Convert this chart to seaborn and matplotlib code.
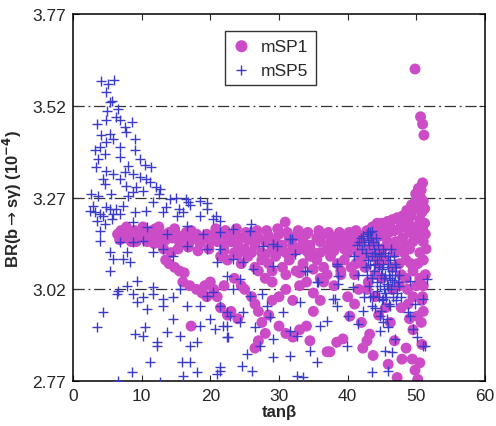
import pandas as pd
import matplotlib
matplotlib.use("Agg")
import matplotlib.pyplot as plt
import seaborn as sns

## Data: (tan beta, BR x 1e4)

# mSP1 (magenta dots)
msp1_band_low_tanb = [
    (6.5, 3.17), (7.0, 3.18), (7.5, 3.16), (8.0, 3.175), (8.5, 3.17), (9.0, 3.18),
    (9.5, 3.165), (10.0, 3.175), (10.5, 3.16), (11.0, 3.17), (11.5, 3.18), (12.0, 3.165),
    (12.5, 3.19), (13.0, 3.17), (13.5, 3.155), (14.0, 3.175), (14.5, 3.16), (15.0, 3.17),
    (15.5, 3.15), (16.0, 3.165), (16.5, 3.175), (17.0, 3.15), (17.5, 3.16), (18.0, 3.17),
    (18.5, 3.145), (19.0, 3.16), (19.5, 3.17), (20.0, 3.15), (9.2, 3.15), (11.8, 3.145),
    (13.2, 3.13), (14.3, 3.12), (15.3, 3.13), (16.8, 3.135), (18.2, 3.125), (19.8, 3.13),
    (7.8, 3.19), (10.2, 3.19), (12.0, 3.185), (14.8, 3.185), (17.2, 3.18), (8.5, 3.15),
    (10.8, 3.15), (12.8, 3.145), (6.8, 3.155),
]
msp1_branch = [
    (13.5, 3.10), (14.0, 3.09), (14.8, 3.08), (15.5, 3.07), (16.2, 3.065), (16.0, 3.04),
    (17.0, 3.03), (18.0, 3.02), (18.8, 3.01), (19.5, 3.0), (20.5, 3.02), (19.2, 3.03),
    (21.0, 3.0), (17.2, 2.92),
]
msp1_band_mid_tanb = [
    (20.5, 3.165), (21, 3.15), (21.5, 3.17), (22, 3.14), (22.5, 3.16), (23, 3.15),
    (23.5, 3.17), (24, 3.14), (24.5, 3.16), (25, 3.13), (25.5, 3.155), (26, 3.17),
    (26.5, 3.14), (27, 3.16), (27.5, 3.12), (28, 3.15), (28.5, 3.165), (29, 3.13),
    (29.5, 3.15), (30, 3.17), (30.5, 3.14), (31, 3.12), (31.5, 3.16), (32, 3.14),
    (32.5, 3.165), (33, 3.13), (33.5, 3.15), (34, 3.17), (34.5, 3.14), (35, 3.12),
    (35.5, 3.16), (36, 3.15), (36.5, 3.17), (37, 3.13), (37.5, 3.15), (38, 3.16),
    (38.5, 3.14), (39, 3.15), (39.5, 3.13), (40, 3.16), (40.5, 3.14), (41, 3.15),
    (41.5, 3.17), (42, 3.15), (21.5, 3.11), (22.5, 3.10), (23.5, 3.12), (24.5, 3.09),
    (25.5, 3.11), (26.5, 3.08), (27.5, 3.10), (28.5, 3.09), (29.5, 3.11), (30.5, 3.08),
    (31.5, 3.10), (32.5, 3.07), (33.5, 3.09), (34.5, 3.11), (35.5, 3.10), (36.5, 3.08),
    (37.5, 3.11), (38.5, 3.09), (39.5, 3.10), (40.5, 3.08), (41.5, 3.12),
    (20.8, 3.185), (22.2, 3.18), (23.8, 3.185), (25.2, 3.175), (26.8, 3.18), (28.2, 3.18),
    (29.8, 3.185), (31.2, 3.175), (32.8, 3.18), (34.2, 3.175), (35.8, 3.18), (37.2, 3.175),
    (38.8, 3.175), (40.2, 3.175), (41.2, 3.18), (22, 3.125), (24, 3.115), (26, 3.12),
    (28, 3.115), (30, 3.125), (32, 3.12), (34, 3.125), (36, 3.12), (38, 3.125),
    (40, 3.12), (27, 3.07), (29, 3.07), (31, 3.06), (33, 3.065), (35, 3.075),
    (37, 3.06), (39, 3.07), (41, 3.06), (34, 3.04), (36, 3.05), (28, 3.05),
]
msp1_scatter_mid = [
    (20, 3.04), (21.5, 2.97), (22.5, 2.95), (23, 2.96), (24, 2.94), (22, 3.03),
    (23.5, 3.05), (25, 3.02), (26, 3.0), (26.5, 2.98), (27, 2.96), (27.5, 2.93),
    (28, 2.90), (27, 2.88), (26.5, 2.86), (28.5, 2.95), (29, 2.99), (30, 2.92),
    (31, 2.90), (32, 2.89), (33, 2.91), (34, 2.92), (34.5, 2.88), (30, 3.0),
    (31, 3.02), (32, 2.99), (33, 3.03), (35, 3.01), (36, 2.99), (36.5, 3.04),
    (37, 2.85), (38.4, 2.876), (39.3, 2.885), (37.4, 2.85), (40, 3.0), (40.3, 2.947),
    (38, 3.03), (39, 3.06), (35, 2.96), (29, 3.04), (24.5, 3.03), (30.9, 3.203),
]
msp1_high_tanb = [
    (49.8, 3.62), (50.6, 3.49), (50.9, 3.47), (51.1, 3.44), (50.9, 3.31), (50.6, 3.27),
    (49.9, 3.26), (50.2, 3.25), (49.5, 3.235), (50.8, 3.23), (49.2, 3.22), (50.5, 3.21),
    (51.2, 3.2), (48.8, 3.205), (49.7, 3.19), (50.9, 3.185), (51.3, 3.17), (48.3, 3.19),
    (47.5, 3.185), (46.8, 3.18), (46, 3.175), (45.3, 3.17), (44.6, 3.165), (49, 3.175),
    (50, 3.16), (51, 3.15), (51.4, 3.13), (48, 3.16), (47, 3.15), (46, 3.14),
    (45, 3.13), (44, 3.14), (43.5, 3.16), (49, 3.13), (50.5, 3.12), (51, 3.10),
    (48.5, 3.10), (47.5, 3.09), (46.5, 3.08), (45.5, 3.10), (44.5, 3.09), (43.5, 3.11),
    (42.5, 3.13), (49.5, 3.07), (50.5, 3.05), (51, 3.03), (48.5, 3.05), (47.5, 3.03),
    (46.5, 3.02), (45, 3.05), (44, 3.06), (43, 3.04), (42.5, 3.08), (49.5, 3.0),
    (50.8, 2.99), (51, 2.96), (48.8, 2.98), (47.8, 2.97), (42.2, 2.86), (43.7, 2.84),
    (42.8, 2.88), (43.2, 2.898), (46.2, 2.93), (45.9, 2.816), (47.2, 2.78), (50.2, 2.775),
    (47.9, 2.83), (49.4, 2.83), (50.5, 2.82), (49.5, 2.91), (50.1, 2.947), (44.5, 2.95),
    (41, 2.98), (42, 2.93), (44, 3.0), (45.5, 2.97), (46.8, 2.88), (48.5, 2.86),
    (50.8, 2.87), (49.8, 2.80),
    (42.8, 3.18), (43.6, 3.19), (44.3, 3.2), (45.0, 3.2), (45.8, 3.205), (46.5, 3.21),
    (47.2, 3.215), (48.0, 3.22), (48.6, 3.235), (49.3, 3.25), (49.9, 3.28), (50.3, 3.295),
    (50.7, 3.29), (51.0, 3.26), (51.2, 3.24), (47.8, 3.2), (46.2, 3.19), (44.8, 3.185),
    (43.9, 3.18), (47.5, 3.13), (48.5, 3.14), (49.5, 3.15), (50.5, 3.17), (51.3, 3.06),
    (50.2, 3.09), (49.2, 3.09), (48.2, 3.12), (47.8, 3.06), (48.7, 3.02), (50, 3.03),
    (50.9, 3.0), (49, 2.94), (50.7, 2.93), (46.8, 3.12), (45.8, 3.15), (44.6, 3.12),
    (43.0, 3.12), (42.0, 3.10), (41.2, 3.09), (42.8, 3.02), (41.6, 3.02),
]

# mSP5 (blue pluses)
msp5_low_tanb = [
    (4.1, 3.587), (5.1, 3.579), (6.0, 3.59), (4.8, 3.557), (5.7, 3.533), (5.4, 3.53),
    (5.0, 3.506), (6.6, 3.51), (6.3, 3.49), (6.8, 3.48), (3.5, 3.47), (4.8, 3.48),
    (7.6, 3.462), (8.6, 3.476), (7.7, 3.448), (4.1, 3.44), (5.4, 3.443), (5.8, 3.43),
    (9.0, 3.43), (4.8, 3.42), (3.2, 3.40), (3.9, 3.408), (6.8, 3.408), (9.0, 3.40),
    (4.7, 3.389), (6.8, 3.38), (3.6, 3.375), (9.8, 3.375), (8.0, 3.356), (10.5, 3.36),
    (11.4, 3.353), (3.4, 3.353), (4.8, 3.342), (5.8, 3.334), (7.6, 3.339), (8.7, 3.334),
    (9.8, 3.326), (4.4, 3.32), (6.8, 3.32), (10.6, 3.32), (11.2, 3.312), (4.7, 3.307),
    (7.7, 3.301), (9.2, 3.298), (12.1, 3.298), (12.7, 3.293), (10.2, 3.288), (8.7, 3.285),
    (2.6, 3.28), (3.6, 3.274), (5.5, 3.28), (8.0, 3.274), (14.1, 3.266), (16.5, 3.266),
    (16.7, 3.258), (11.7, 3.258), (2.9, 3.247), (4.8, 3.244), (6.3, 3.239), (7.3, 3.247),
    (10.6, 3.233), (13.1, 3.23), (13.5, 3.244), (3.2, 3.23), (4.4, 3.22), (5.8, 3.225),
    (9.0, 3.23), (16.0, 3.23), (2.5, 3.233), (3.9, 3.225), (5.4, 3.238), (3.5, 3.206),
    (4.7, 3.198), (5.7, 3.211), (6.8, 3.225), (3.9, 3.179), (3.9, 3.151), (12.5, 3.28),
    (15.0, 3.27), (18.5, 3.26), (19.5, 3.255), (17.0, 3.25), (15.5, 3.24), (20.8, 3.22),
]
msp5_band = [
    (7.9, 3.122), (7.3, 3.102), (8.3, 3.094), (5.8, 3.102), (5.4, 3.122), (6.8, 3.149),
    (8.7, 3.149), (10.2, 3.151), (11.7, 3.122), (13.1, 3.13), (14.6, 3.11), (16.6, 3.138),
    (19.5, 3.13), (21, 3.094), (22.4, 3.056), (24.3, 3.048), (13.7, 3.17), (16.6, 3.192),
    (18.9, 3.17), (21.4, 3.176), (23.3, 3.184), (15.1, 3.22), (18.5, 3.22), (8.7, 3.203),
    (10.8, 3.19), (19.5, 3.239), (20.4, 3.211), (21.4, 3.206), (25.8, 3.179), (31.6, 3.157),
    (21.4, 3.13), (23.3, 3.102), (24.8, 3.094), (26.2, 3.075), (29.1, 3.083), (29.7, 3.138),
    (32.3, 3.116), (34.1, 3.07), (35.5, 3.04), (38.4, 3.083), (25.9, 3.198), (31.9, 3.157),
    (33.8, 3.07), (29.1, 3.143), (27.7, 3.138), (35.7, 3.04), (5.4, 3.07),
]
msp5_scatter_mid = [
    (6.4, 3.007), (6.6, 3.015), (4.4, 2.958), (3.5, 2.917), (6.6, 2.77), (8.6, 2.794),
    (9.0, 2.898), (10.2, 2.893), (10.5, 2.917), (9.3, 3.042), (7.9, 3.029), (8.7, 3.007),
    (9.3, 2.985), (10.2, 2.999), (11.7, 3.007), (10.8, 2.966), (12.2, 2.876), (12.2, 2.865),
    (11.2, 2.822), (12.7, 2.767), (13.1, 2.974), (13.7, 2.904), (14.6, 2.939), (15.6, 2.893),
    (15.9, 2.822), (16.0, 2.784), (17.0, 2.822), (18.1, 2.794), (17.0, 2.865), (18.1, 2.876),
    (18.5, 2.92), (19.9, 2.939), (16.6, 2.974), (18.5, 2.974), (21.4, 2.797), (22.4, 2.89),
    (22.4, 2.92), (14.6, 3.0), (13.1, 2.993), (11.7, 3.026), (15.6, 3.021), (20.4, 3.013),
    (23.3, 3.021), (19.5, 3.002), (21.4, 2.974), (22.4, 2.958), (22.9, 2.947), (21.8, 2.92),
    (20.7, 2.912), (24.3, 2.931), (24.8, 2.958), (25.8, 3.002), (27.5, 3.007), (28.3, 2.974),
    (28.7, 2.944), (26.5, 2.917), (27.2, 2.865), (25.3, 2.844), (22.6, 2.89), (24.6, 2.81),
    (26.1, 2.797), (21.4, 2.808), (21.0, 2.789), (30.6, 2.958), (31.6, 2.906), (32.6, 2.893),
    (29.1, 2.884), (29.1, 2.835), (31.6, 2.838), (32.6, 2.784), (33.5, 2.781), (35.5, 2.822),
    (34.5, 2.852), (36.0, 2.92), (37.0, 2.934), (33.1, 2.985), (37.9, 2.993), (38.4, 2.974),
    (38.6, 3.056), (38.6, 3.034), (40.8, 3.026), (39.9, 2.865), (38.2, 2.993), (40.0, 2.947),
    (41.5, 2.925),
]
msp5_high_tanb = [
    (42.0, 3.16), (42.4, 3.15), (42.8, 3.17), (43.1, 3.14), (43.4, 3.16), (43.8, 3.13),
    (42.6, 3.12), (43.0, 3.10), (43.6, 3.11), (44.0, 3.12), (44.3, 3.10), (44.6, 3.08),
    (43.9, 3.07), (44.8, 3.06), (45.2, 3.09), (45.5, 3.06), (45.8, 3.08), (46.1, 3.05),
    (46.5, 3.07), (44.2, 3.04), (44.7, 3.03), (45.3, 3.02), (45.9, 3.03), (46.3, 3.02),
    (46.8, 3.04), (47.2, 3.01), (43.5, 3.05), (43.1, 3.03), (42.7, 3.08), (44.5, 3.0),
    (45.0, 2.99), (45.6, 3.0), (46.0, 2.98), (47.5, 3.03), (47.8, 3.0), (42.1, 3.13),
    (41.7, 3.15), (41.3, 3.14), (44.9, 3.11), (45.5, 3.12), (46.2, 3.10), (46.7, 3.11),
    (47.0, 3.08), (47.4, 3.06), (43.2, 3.0), (42.4, 3.0), (44.0, 2.97), (41.5, 3.06),
    (40.9, 3.11), (42.9, 3.175), (43.5, 3.18), (51.5, 3.048), (49.1, 3.042), (51.0, 2.993),
    (49.8, 2.98), (48.8, 2.958), (46.2, 2.974), (45.1, 2.993), (43.7, 3.002), (42.2, 2.961),
    (43.5, 2.974), (44.7, 2.947), (45.7, 2.939), (45.9, 2.917), (44.7, 2.906), (46.9, 2.884),
    (45.4, 2.852), (46.5, 2.849), (45.9, 2.797), (43.5, 2.794), (51.0, 2.865), (50.1, 2.89),
    (49.5, 2.912), (49.1, 2.947), (51.3, 2.865), (38.4, 3.089),
    (42.3, 3.165), (42.9, 3.155), (43.3, 3.175), (43.7, 3.15), (44.1, 3.16), (44.4, 3.14),
    (44.0, 3.09), (44.5, 3.115), (45.0, 3.075), (45.3, 3.05), (45.7, 3.035), (46.0, 3.06),
    (46.4, 3.045), (46.9, 3.06), (47.3, 3.04), (45.1, 3.13), (45.8, 3.11), (46.3, 3.13),
    (46.9, 3.09), (42.8, 3.06), (43.3, 3.085), (44.3, 3.015), (45.4, 3.01), (46.6, 3.0),
    (47.1, 2.99), (44.8, 2.96), (45.2, 2.93),
]

xticks = [0, 10, 20, 30, 40, 50, 60]
yticks = [2.77, 3.02, 3.27, 3.52, 3.77]


def to_frame(groups, label):
    pts = [p for g in groups for p in g]
    return pd.DataFrame({"tanb": [p[0] for p in pts],
                         "br": [p[1] for p in pts],
                         "model": label})


df1 = to_frame([msp1_band_low_tanb, msp1_branch, msp1_band_mid_tanb,
                msp1_scatter_mid, msp1_high_tanb], "mSP1")
df5 = to_frame([msp5_low_tanb, msp5_band, msp5_scatter_mid, msp5_high_tanb], "mSP5")

## Plot

sns.set_style("ticks")
plt.rcParams["font.family"] = ["Liberation Sans", "DejaVu Sans"]
plt.rcParams["mathtext.fontset"] = "dejavusans"

fig = plt.figure(figsize=(4.96, 4.27), dpi=100)
ax = fig.add_axes([0.147, 0.105, 0.831, 0.86])

sns.scatterplot(data=df1, x="tanb", y="br", ax=ax, color="#cc4cc8",
                marker="o", s=62, edgecolor="none", label="mSP1", zorder=2)
sns.scatterplot(data=df5, x="tanb", y="br", ax=ax, color="#3a3acb",
                marker="+", s=48, linewidth=1.0, label="mSP5", zorder=3)

ax.set_xlim(0, 60)
ax.set_ylim(2.77, 3.77)
ax.set_xticks(xticks)
ax.set_yticks(yticks)
ax.set_yticklabels([f"{t:.2f}" for t in yticks])
ax.tick_params(direction="in", top=True, right=True, labelsize=12.5,
               length=4, width=0.8, pad=5)

for y in yticks[1:-1]:
    ax.axhline(y, color="#333333", lw=0.9, ls=(0, (9, 3, 1.5, 3)), zorder=1)

for sp in ax.spines.values():
    sp.set_linewidth(1.1)
    sp.set_color("black")

ax.set_xlabel("tanβ", fontsize=12, fontweight="bold", labelpad=1)
ax.set_ylabel("BR(b$\\rightarrow$sγ) (10$^{\\mathbf{-4}}$)",
              fontsize=12, fontweight="bold", labelpad=6)

leg = ax.legend(loc="upper left", bbox_to_anchor=(0.369, 0.954), fontsize=12.5,
                frameon=True, fancybox=False, edgecolor="black",
                borderpad=0.45, borderaxespad=0, handlelength=1.0,
                handletextpad=0.6, markerscale=1.1)
leg.get_frame().set_linewidth(1.0)

fig.savefig("out.png", dpi=100)
